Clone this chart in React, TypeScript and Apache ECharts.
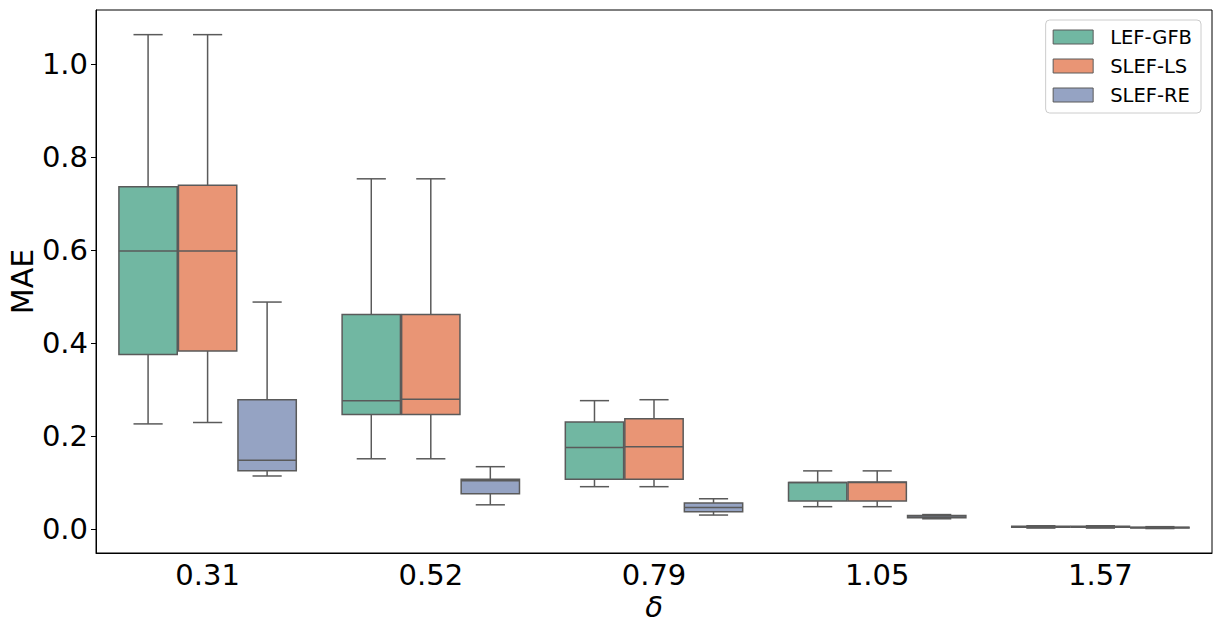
import React, { useEffect, useRef } from "react";
import * as echarts from "echarts";

const categories = ["0.31", "0.52", "0.79", "1.05", "1.57"];
const seriesNames = ["LEF-GFB", "SLEF-LS", "SLEF-RE"];
const seriesColors = ["#71b7a2", "#e99575", "#95a3c3"];
// [min, Q1, median, Q3, max]
const lefGfb = [
  [0.226, 0.375, 0.598, 0.736, 1.063],
  [0.151, 0.246, 0.276, 0.461, 0.753],
  [0.091, 0.107, 0.175, 0.23, 0.276],
  [0.048, 0.06, 0.1, 0.1, 0.125],
  [0.002, 0.004, 0.005, 0.006, 0.007],
];
const slefLs = [
  [0.229, 0.383, 0.598, 0.739, 1.063],
  [0.151, 0.246, 0.279, 0.461, 0.753],
  [0.091, 0.107, 0.177, 0.237, 0.278],
  [0.048, 0.06, 0.1, 0.101, 0.125],
  [0.002, 0.004, 0.005, 0.006, 0.007],
];
const slefRe = [
  [0.114, 0.125, 0.148, 0.278, 0.488],
  [0.052, 0.076, 0.104, 0.107, 0.134],
  [0.03, 0.037, 0.046, 0.056, 0.065],
  [0.022, 0.024, 0.026, 0.029, 0.031],
  [0.001, 0.002, 0.003, 0.004, 0.005],
];
const yTicks = [0, 0.2, 0.4, 0.6, 0.8, 1.0];

const allData = [lefGfb, slefLs, slefRe];
const LINE = "#5a5a5a";
const FONT = "DejaVu Sans";

function makeRender(sIdx: number) {
  return (params: any, api: any) => {
    const ci = api.value(0);
    const band = api.size([1, 0])[0];
    const slot = (band * 0.8) / 3;
    const cx = api.coord([ci, 0])[0] + (sIdx - 1) * slot;
    const w = slot * 0.98;
    const y = [1, 2, 3, 4, 5].map((d) => api.coord([ci, api.value(d)])[1]);
    const ls = { stroke: LINE, lineWidth: 1.5 };
    return {
      type: "group",
      children: [
        { type: "line", shape: { x1: cx, y1: y[1], x2: cx, y2: y[0] }, style: ls },
        { type: "line", shape: { x1: cx, y1: y[3], x2: cx, y2: y[4] }, style: ls },
        { type: "line", shape: { x1: cx - w / 4, y1: y[0], x2: cx + w / 4, y2: y[0] }, style: ls },
        { type: "line", shape: { x1: cx - w / 4, y1: y[4], x2: cx + w / 4, y2: y[4] }, style: ls },
        {
          type: "rect",
          shape: { x: cx - w / 2, y: y[3], width: w, height: y[1] - y[3] },
          style: { fill: seriesColors[sIdx], stroke: LINE, lineWidth: 1.5 },
        },
        { type: "line", shape: { x1: cx - w / 2, y1: y[2], x2: cx + w / 2, y2: y[2] }, style: ls },
      ],
    };
  };
}

export default function App() {
  const ref = useRef<HTMLDivElement>(null);
  useEffect(() => {
    const chart = echarts.init(ref.current!, null, { renderer: "svg" });
    chart.setOption({
      animation: false,
      backgroundColor: "#fff",
      textStyle: { fontFamily: FONT },
      grid: {
        left: 96,
        right: 9,
        top: 10,
        bottom: 77,
        outerBoundsMode: "none",
        containLabel: false,
        show: true,
        borderColor: "#000",
        borderWidth: 1,
      },
      legend: {
        orient: "vertical",
        right: 20,
        top: 20,
        padding: [7, 9, 8, 7],
        itemGap: 9,
        itemWidth: 40,
        itemHeight: 14,
        icon: "rect",
        borderColor: "#cccccc",
        borderWidth: 1,
        borderRadius: 4,
        backgroundColor: "rgba(255,255,255,0.8)",
        itemStyle: { borderColor: LINE, borderWidth: 1 },
        textStyle: {
          fontSize: 19.5,
          lineHeight: 20,
          color: "#000",
          fontFamily: FONT,
          padding: [0, 0, 0, 12],
        },
        data: seriesNames,
      },
      xAxis: {
        type: "category",
        data: categories,
        boundaryGap: true,
        axisLine: { onZero: false, lineStyle: { color: "#000", width: 1 } },
        axisTick: { alignWithLabel: true, length: 5, lineStyle: { color: "#000" } },
        axisLabel: { fontSize: 29, lineHeight: 24, color: "#000", margin: 10, fontFamily: FONT },
        splitLine: { show: false },
        name: "δ",
        nameLocation: "middle",
        nameGap: 41,
        nameMoveOverlap: false,
        nameTextStyle: { fontSize: 29, lineHeight: 26, fontStyle: "italic", color: "#000", fontFamily: FONT },
      },
      yAxis: {
        type: "value",
        min: -0.0516,
        max: 1.116,
        axisLine: { show: true, onZero: false, lineStyle: { color: "#000", width: 1 } },
        axisTick: { show: true, length: 5, customValues: yTicks, lineStyle: { color: "#000" } },
        axisLabel: {
          fontSize: 29,
          color: "#000",
          margin: 8,
          fontFamily: FONT,
          customValues: yTicks,
          formatter: (v: number) => v.toFixed(1),
        },
        splitLine: { show: false },
        name: "MAE",
        nameLocation: "middle",
        nameGap: 59,
        nameMoveOverlap: false,
        nameTextStyle: { fontSize: 30, color: "#000", fontFamily: FONT },
      },
      series: allData.map((d, sIdx) => ({
        type: "custom",
        name: seriesNames[sIdx],
        itemStyle: { color: seriesColors[sIdx] },
        renderItem: makeRender(sIdx),
        encode: { x: 0, y: [1, 2, 3, 4, 5] },
        data: d.map((v, i) => [i, ...v]),
      })),
    });
    return () => chart.dispose();
  }, []);
  return (
    <div
      ref={ref}
      style={{ position: "fixed", left: 0, top: 0, width: 1221, height: 630 }}
    />
  );
}
